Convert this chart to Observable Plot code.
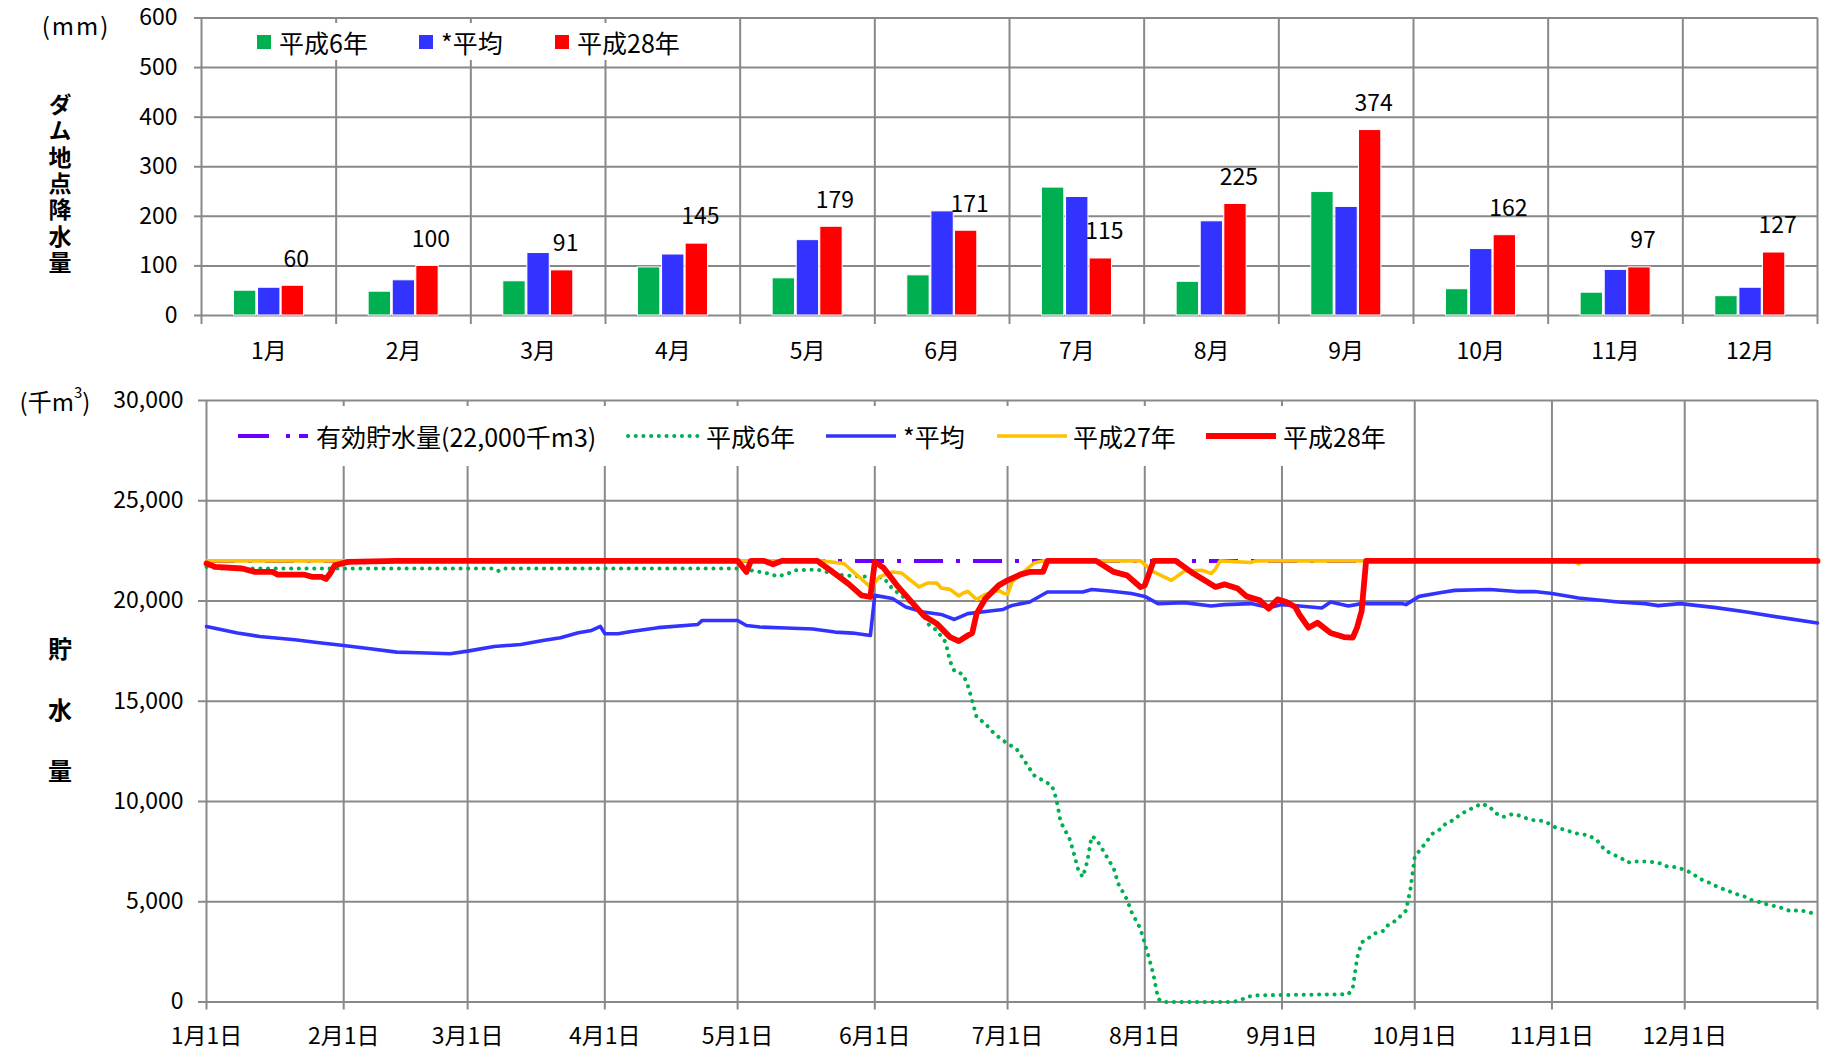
<!DOCTYPE html>
<html><head><meta charset="utf-8">
<script src="https://cdn.jsdelivr.net/npm/d3@7"></script>
<script src="https://cdn.jsdelivr.net/npm/@observablehq/plot@0.6"></script>
<style>
body{margin:0;background:#fff;}
#wrap{position:relative;width:1824px;height:1054px;overflow:hidden;background:#fff;}
#wrap svg{position:absolute;left:0;}
</style></head><body><div id="wrap"></div>
<script>
// ---------- DATA ----------
const months = ["1月","2月","3月","4月","5月","6月","7月","8月","9月","10月","11月","12月"];
const rainSeries = ["平成6年","*平均","平成28年"];
const rainH6  = [50,48,69,97,75,81,258,68,249,53,46,39];
const rainAvg = [56,71,126,123,152,210,239,190,219,134,92,56];
const rainH28 = [60,100,91,145,179,171,115,225,374,162,97,127];
const rainTicks = [0,100,200,300,400,500,600];

const storageSeries = ["有効貯水量(22,000千m3)","平成6年","*平均","平成27年","平成28年"];
const storageTicks = [0,5000,10000,15000,20000,25000,30000];
const dateTickLabels = ["1月1日","2月1日","3月1日","4月1日","5月1日","6月1日","7月1日","8月1日","9月1日","10月1日","11月1日","12月1日"];
const dateTickDays = [0,31,59,90,120,151,181,212,243,273,304,334]; // day of year (0 = 1月1日)
const yearEndDay = 364; // 12月31日
const effectiveCapacity = 22000;

// [day of year, storage 千m3]
const storageH6 = [[0,21700],[3,21620],[65,21620],[66,21500],[67,21620],[120,21620],[122,21570],[125,21450],[127,21370],[129,21230],[131,21330],[133,21530],[138,21570],[140,21450],[143,21300],[146,21250],[151,21200],[153,21160],[155,20610],[159,19940],[162,19280],[163,18860],[165,18530],[167,17950],[168,17000],[169,16500],[170,16450],[171,16300],[172,15800],[173,15040],[174,14210],[176,13880],[178,13380],[181,12880],[183,12630],[185,11970],[187,11300],[191,10800],[192,10140],[193,8975],[195,8140],[196,7400],[197,6565],[198,6230],[199,7000],[200,8260],[201,8140],[203,7400],[205,6650],[206,5900],[208,5100],[209,4490],[211,3660],[212,2910],[213,2160],[214,1330],[215,170],[216,0],[232,0],[234,130],[235,250],[237,330],[243,350],[250,367],[258,384],[259,700],[260,2220],[261,2970],[263,3255],[264,3420],[266,3555],[267,3855],[269,4090],[270,4355],[271,4550],[272,5600],[273,7250],[275,7810],[276,8095],[277,8395],[279,8645],[280,8900],[282,9100],[283,9310],[285,9565],[287,9765],[288,9900],[290,9730],[291,9450],[293,9230],[295,9365],[296,9345],[298,9180],[300,9060],[302,9030],[303,8930],[305,8680],[307,8595],[308,8510],[310,8380],[312,8330],[314,8110],[315,7845],[316,7560],[318,7345],[320,7125],[321,6960],[323,7010],[325,7010],[327,6975],[329,6890],[330,6760],[332,6725],[334,6590],[336,6390],[337,6175],[339,6010],[341,5790],[342,5690],[344,5525],[346,5360],[348,5225],[349,5090],[351,4975],[353,4840],[355,4755],[357,4605],[358,4520],[360,4590],[362,4470],[364,4390]];
const storageAvg = [[0,18730],[7,18400],[12,18230],[20,18070],[25,17930],[31,17780],[37,17620],[43,17450],[48,17420],[55,17370],[59,17500],[65,17730],[71,17830],[76,18030],[80,18170],[84,18420],[87,18530],[89,18730],[90,18370],[93,18370],[96,18480],[102,18670],[111,18830],[112,19030],[120,19030],[122,18780],[125,18700],[131,18650],[137,18600],[142,18450],[146,18400],[150,18280],[151,20280],[155,20120],[158,19700],[162,19450],[166,19330],[169,19080],[172,19370],[177,19500],[180,19580],[182,19780],[186,19950],[190,20450],[198,20450],[200,20570],[204,20500],[209,20370],[212,20230],[215,19870],[221,19920],[227,19750],[230,19820],[236,19870],[240,19670],[243,19820],[247,19750],[252,19650],[254,19950],[258,19750],[261,19870],[270,19870],[271,19820],[274,20230],[279,20420],[282,20530],[290,20570],[296,20470],[300,20470],[304,20370],[310,20150],[319,19950],[325,19870],[328,19770],[333,19870],[341,19670],[348,19450],[356,19170],[364,18900]];
const storageH27 = [[0,22000],[139,22000],[144,21870],[150,20700],[151,20900],[152,21200],[155,21450],[157,21400],[161,20700],[163,20900],[165,20900],[166,20650],[168,20580],[170,20250],[171,20400],[172,20480],[174,20080],[176,20330],[179,20530],[180,20400],[181,20330],[182,20950],[187,21900],[189,22000],[211,22000],[214,21450],[218,21030],[221,21500],[225,21530],[227,21370],[228,21600],[229,22000],[236,21920],[237,22000],[309,22000],[310,21850],[311,22000],[364,22000]];
const storageH28 = [[0,21870],[2,21700],[8,21620],[11,21450],[15,21450],[16,21320],[22,21320],[24,21200],[26,21200],[27,21100],[28,21400],[29,21780],[32,21950],[43,22000],[120,22000],[122,21450],[123,22000],[126,22000],[128,21830],[130,22000],[138,22000],[141,21530],[145,20870],[148,20280],[150,20200],[151,21950],[152,21800],[153,21650],[156,20780],[159,20030],[162,19280],[165,18870],[168,18200],[170,18000],[172,18280],[173,18400],[174,19370],[176,20120],[179,20780],[181,21030],[184,21330],[186,21450],[189,21450],[190,22000],[201,22000],[205,21450],[208,21280],[211,20700],[212,20780],[214,22000],[219,22000],[223,21370],[228,20700],[230,20830],[233,20620],[235,20230],[238,20030],[240,19620],[242,20080],[244,19950],[246,19700],[247,19300],[249,18670],[251,18920],[254,18400],[257,18200],[259,18170],[260,18700],[261,19500],[262,22000],[364,22000]];

// ---------- STYLE ----------
const FONT = '"Noto Sans CJK JP","Noto Sans",sans-serif';
const GRID = "#898989";
const rainColors = ["#00B050","#3333FF","#FF0000"];
const C_PURPLE = "#6A00FF", C_GREEN = "#00B050", C_BLUE = "#3333FF", C_YELLOW = "#FFC000", C_RED = "#FF0000";

const wrap = document.getElementById("wrap");

// ---------- TOP: monthly rainfall ----------
const rainRows = months.flatMap((m, i) => [
  {m: i + 1, series: rainSeries[0], value: rainH6[i]},
  {m: i + 1, series: rainSeries[1], value: rainAvg[i]},
  {m: i + 1, series: rainSeries[2], value: rainH28[i]}
]);
const seriesOffset = {"平成6年": -0.176, "*平均": 0.003, "平成28年": 0.178};
const barW = 0.166;
const monthEdges = d3.range(months.length + 1).map(i => i + 0.5);
const monthCenters = months.map((_, i) => i + 1);

const topPlot = Plot.plot({
  width: 1824, height: 370,
  marginLeft: 201, marginRight: 7, marginTop: 17.5, marginBottom: 55,
  style: {fontFamily: FONT, fontSize: "23px", color: "#000", background: "transparent", overflow: "visible"},
  x: {type: "linear", domain: [0.5, months.length + 0.5]},
  y: {domain: [0, 600]},
  color: {domain: rainSeries, range: rainColors},
  marks: [
    Plot.gridY({ticks: rainTicks, stroke: GRID, strokeOpacity: 1, strokeWidth: 2}),
    Plot.ruleX(monthEdges, {stroke: GRID, strokeWidth: 2}),
    Plot.axisY({ticks: rainTicks, tickSize: 7, stroke: GRID, strokeWidth: 2, tickFormat: () => "", label: null}),
    Plot.axisY({ticks: rainTicks, tickSize: 0, tickPadding: 24, label: null, fontSize: 23}),
    Plot.axisX({ticks: monthEdges, tickSize: 9, stroke: GRID, strokeWidth: 2, tickFormat: () => "", label: null}),
    Plot.axisX({ticks: monthCenters, tickSize: 0, tickPadding: 27, tickFormat: d => months[d - 1], label: null, fontSize: 23}),
    Plot.rect(rainRows, {
      x1: d => d.m + seriesOffset[d.series] - barW / 2,
      x2: d => d.m + seriesOffset[d.series] + barW / 2,
      y1: 0, y2: "value", fill: "series", stroke: "#fff", strokeWidth: 1
    }),
    Plot.text(rainRows.filter(d => d.series === "平成28年"), {
      x: d => d.m + seriesOffset[d.series], y: "value", text: d => String(d.value),
      dy: -26.5, dx: 3.5, fontSize: 23, fill: "#000"
    })
  ]
});
topPlot.style.top = "0px";
wrap.appendChild(topPlot);

// ---------- BOTTOM: storage ----------
const xy = {x: d => d[0], y: d => d[1]};
const botPlot = Plot.plot({
  width: 1824, height: 684,
  marginLeft: 206, marginRight: 7, marginTop: 30, marginBottom: 52.5,
  style: {fontFamily: FONT, fontSize: "23px", color: "#000", background: "transparent", overflow: "visible"},
  x: {type: "linear", domain: [0, yearEndDay]},
  y: {domain: [0, 30000]},
  marks: [
    Plot.gridY({ticks: storageTicks, stroke: GRID, strokeOpacity: 1, strokeWidth: 2}),
    Plot.gridX({ticks: [...dateTickDays, yearEndDay], stroke: GRID, strokeOpacity: 1, strokeWidth: 2}),
    Plot.axisY({ticks: storageTicks, tickSize: 8, stroke: GRID, strokeWidth: 2, tickFormat: () => "", label: null}),
    Plot.axisY({ticks: storageTicks, tickSize: 0, tickPadding: 23, tickFormat: d3.format(","), label: null, fontSize: 23}),
    Plot.axisX({ticks: [...dateTickDays, yearEndDay], tickSize: 8, stroke: GRID, strokeWidth: 2, tickFormat: () => "", label: null}),
    Plot.axisX({ticks: dateTickDays, tickSize: 0, tickPadding: 26, tickFormat: d => dateTickLabels[dateTickDays.indexOf(d)], label: null, fontSize: 23}),
    Plot.ruleY([effectiveCapacity], {stroke: C_PURPLE, strokeWidth: 4, strokeDasharray: "29 13 4 13"}),
    Plot.line(storageH6, {...xy, stroke: C_GREEN, strokeWidth: 4, strokeDasharray: "0.1 7.6", strokeLinecap: "round"}),
    Plot.line(storageAvg, {...xy, stroke: C_BLUE, strokeWidth: 3.6}),
    Plot.line(storageH27, {...xy, stroke: C_YELLOW, strokeWidth: 3.6}),
    Plot.line(storageH28, {...xy, stroke: C_RED, strokeWidth: 5.8})
  ]
});
botPlot.style.top = "370px";
wrap.appendChild(botPlot);

// ---------- annotations & legends ----------
const sT = d3.select(topPlot);
const gT = sT.append("g").attr("font-family", FONT).attr("fill", "#000").attr("text-anchor", "start");
gT.append("rect").attr("x", 212).attr("y", 23).attr("width", 490).attr("height", 37).attr("fill", "#fff");
const topLegendX = [257, 419, 555];
rainSeries.forEach((s, i) => {
  gT.append("rect").attr("x", topLegendX[i]).attr("y", 35).attr("width", 14).attr("height", 14).attr("fill", rainColors[i]);
  gT.append("text").attr("x", topLegendX[i] + 22).attr("y", 42).attr("text-anchor", "start").attr("dominant-baseline", "central")
    .attr("font-size", 25).text(s);
});
gT.append("text").attr("x", 76).attr("y", 24).attr("text-anchor", "middle").attr("dominant-baseline", "central")
  .attr("font-size", 24).attr("letter-spacing", 2).text("(mm)");
// vertical axis title (one text, vertical writing)
gT.append("text").attr("x", 60).attr("y", 92.5).attr("text-anchor", "start")
  .style("writing-mode", "vertical-rl").style("text-orientation", "upright")
  .attr("font-size", 23).attr("font-weight", "bold").attr("letter-spacing", 3.4).text("ダム地点降水量");

const sB = d3.select(botPlot);
const gB = sB.append("g").attr("font-family", FONT).attr("fill", "#000").attr("text-anchor", "start");
gB.append("rect").attr("x", 214).attr("y", 36).attr("width", 1184).attr("height", 60).attr("fill", "#fff");
const legY = 66;
const legItems = [
  {x1: 238, x2: 308, tx: 316, stroke: C_PURPLE, w: 4, dash: "31 17 4 9"},
  {x1: 628, x2: 698, tx: 706, stroke: C_GREEN, w: 4, dash: "0.1 7.6", cap: "round"},
  {x1: 826, x2: 896, tx: 903, stroke: C_BLUE, w: 3.6},
  {x1: 997, x2: 1067, tx: 1073, stroke: C_YELLOW, w: 3.6},
  {x1: 1206, x2: 1276, tx: 1283, stroke: C_RED, w: 5.8}
];
legItems.forEach((it, i) => {
  const ln = gB.append("line").attr("x1", it.x1).attr("x2", it.x2).attr("y1", legY).attr("y2", legY)
    .attr("stroke", it.stroke).attr("stroke-width", it.w);
  if (it.dash) ln.attr("stroke-dasharray", it.dash);
  if (it.cap) ln.attr("stroke-linecap", it.cap);
  gB.append("text").attr("x", it.tx).attr("y", legY).attr("text-anchor", "start").attr("dominant-baseline", "central")
    .attr("font-size", 25).text(storageSeries[i]);
});
const unit = gB.append("text").attr("x", 55).attr("y", 30).attr("text-anchor", "middle")
  .attr("dominant-baseline", "central").attr("font-size", 24);
unit.append("tspan").text("(千m");
unit.append("tspan").attr("font-size", 15).attr("dy", -9).text("3");
unit.append("tspan").attr("dy", 9).text(")");
gB.append("text").attr("x", 60).attr("y", 267).attr("text-anchor", "start")
  .style("writing-mode", "vertical-rl").style("text-orientation", "upright")
  .attr("font-size", 24).attr("font-weight", "bold").attr("letter-spacing", 37).text("貯水量");
</script></body></html>
